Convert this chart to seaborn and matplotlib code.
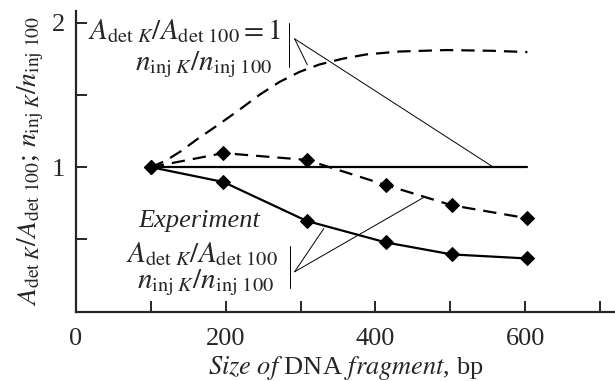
import matplotlib
matplotlib.use("Agg")
import matplotlib.pyplot as plt
import seaborn as sns
import pandas as pd

# Measured points (fragment size, bp) and normalised ratios
exp_size = [100, 197, 308, 414, 502, 603]
exp_a_det = [1.0, 0.897, 0.628, 0.479, 0.396, 0.368]
exp_n_inj = [1.0, 1.097, 1.05, 0.876, 0.736, 0.646]

# Calculated curves
flat_size = [100, 603]
flat_ratio = [1.0, 1.0]
calc_size = [100, 120, 140, 161, 192, 219, 245, 272, 299, 325, 356, 388, 432, 495, 556, 603]
calc_n_inj = [1.0, 1.045, 1.11, 1.19, 1.30, 1.40, 1.50, 1.59, 1.66, 1.71, 1.75,
              1.78, 1.80, 1.81, 1.805, 1.796]

x_ticks = [0, 100, 200, 300, 400, 500, 600, 700]
x_ticklabels = ["0", "", "200", "", "400", "", "600", ""]
y_ticks = [0.5, 1.0, 1.5, 2.0]
y_ticklabels = ["", "1", "", "2"]

sns.set_style("ticks")
plt.rcParams["font.family"] = ["Liberation Serif", "DejaVu Serif"]
plt.rcParams["mathtext.fontset"] = "stix"

fig = plt.figure(figsize=(6.15, 3.81), dpi=100)
ax = fig.add_axes([0.1236, 0.182, 0.8764, 0.789])

FS = 19
MFS = 21
LW = 1.6
dash = (6.0, 3.6)

exp_df = pd.DataFrame({"size": exp_size, "a_det": exp_a_det, "n_inj": exp_n_inj})
calc_df = pd.DataFrame({"size": calc_size, "n_inj": calc_n_inj})
flat_df = pd.DataFrame({"size": flat_size, "ratio": flat_ratio})

sns.lineplot(data=flat_df, x="size", y="ratio", ax=ax, color="black", lw=LW)
sns.lineplot(data=calc_df, x="size", y="n_inj", ax=ax, color="black", lw=LW)
ax.lines[-1].set_dashes(dash)
sns.lineplot(data=exp_df, x="size", y="n_inj", ax=ax, color="black", lw=LW,
             marker="D", markersize=7.5, markeredgecolor="black")
ax.lines[-1].set_dashes(dash)
sns.lineplot(data=exp_df, x="size", y="a_det", ax=ax, color="black", lw=LW,
             marker="D", markersize=7.5, markeredgecolor="black")

# Leader lines linking labels to curves
thin = dict(color="black", lw=0.7)
ax.plot([285, 285], [1.694, 1.998], **thin)
ax.plot([292, 309], [1.888, 1.708], **thin)
ax.plot([292, 556], [1.888, 1.005], **thin)
ax.plot([286, 286], [0.163, 0.453], **thin)
ax.plot([292, 331], [0.276, 0.575], **thin)
ax.plot([292, 464], [0.276, 0.789], **thin)

ax.text(274, 1.94, r"$A_{\mathrm{det}\ K}/A_{\mathrm{det}\ 100} = 1$",
        ha="right", va="center", fontsize=MFS)
ax.text(262, 1.71, r"$n_{\mathrm{inj}\ K}/n_{\mathrm{inj}\ 100}$",
        ha="right", va="center", fontsize=MFS)
ax.text(83, 0.63, "Experiment", style="italic", ha="left", va="center", fontsize=FS)
ax.text(270, 0.40, r"$A_{\mathrm{det}\ K}/A_{\mathrm{det}\ 100}$",
        ha="right", va="center", fontsize=MFS)
ax.text(265, 0.20, r"$n_{\mathrm{inj}\ K}/n_{\mathrm{inj}\ 100}$",
        ha="right", va="center", fontsize=MFS)

ax.set_xlim(0, 720)
ax.set_ylim(0, 2.08)
ax.set_xticks(x_ticks)
ax.set_xticklabels(x_ticklabels)
ax.set_yticks(y_ticks)
ax.set_yticklabels(y_ticklabels)
ax.tick_params(direction="in", length=8, width=1.4, labelsize=FS)
ax.tick_params(axis="x", pad=12)
ax.tick_params(axis="y", pad=8)

ax.set_xlabel(r"$\mathit{Size\ of}$ DNA $\mathit{fragment}$, bp", fontsize=FS, labelpad=3)
ax.set_ylabel(r"$A_{\mathrm{det}\ K}/A_{\mathrm{det}\ 100}$; $n_{\mathrm{inj}\ K}/n_{\mathrm{inj}\ 100}$",
              fontsize=20, labelpad=4)
for side in ("top", "right"):
    ax.spines[side].set_visible(False)
for side in ("left", "bottom"):
    ax.spines[side].set_linewidth(1.6)

fig.savefig("out.png", dpi=100)
